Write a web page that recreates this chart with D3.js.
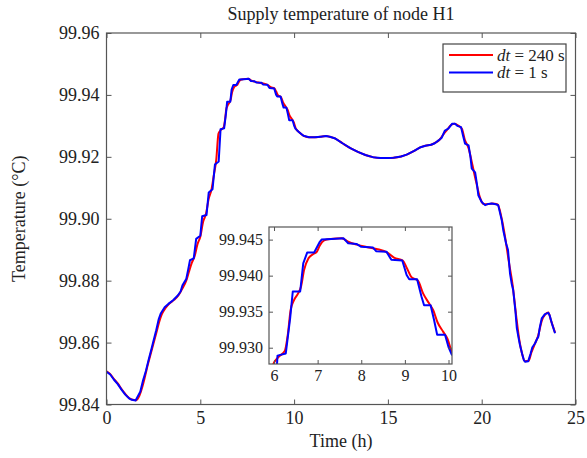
<!DOCTYPE html>
<html>
<head>
<meta charset="utf-8">
<script src="https://cdn.jsdelivr.net/npm/d3@7"></script>
<style>
  body { margin: 0; background: #fff; }
  svg { display: block; font-family: "Liberation Serif", "Times New Roman", serif; }
  .axis path { display: none; }
  .axis line { stroke: #555; stroke-width: 1; }
  .axis text { fill: #222; font-family: "Liberation Serif", "Times New Roman", serif; }
</style>
</head>
<body>
<svg id="chart"></svg>
<script>
// time (h) and temperature for dt = 1 s (blue, stepped)
var blueT = [0.00,0.20,0.40,0.60,0.80,1.00,1.20,1.35,1.55,1.70,1.80,1.95,2.10,2.25,2.40,2.50,2.65,2.78,2.90,3.10,3.30,3.55,3.80,3.95,4.05,4.25,4.35,4.45,4.65,4.78,5.00,5.10,5.33,5.45,5.65,5.78,5.98,6.08,6.27,6.37,6.43,6.60,6.67,6.76,6.92,7.05,7.09,7.32,7.59,7.70,7.89,8.00,8.27,8.34,8.58,8.66,8.69,8.94,9.04,9.10,9.28,9.38,9.44,9.59,9.67,9.74,9.92,10.00,10.07,10.25,10.50,10.80,11.10,11.40,11.70,11.90,12.20,12.60,13.00,13.40,13.80,14.20,14.60,15.00,15.30,15.70,16.00,16.40,16.70,17.00,17.30,17.50,17.70,17.87,18.04,18.22,18.43,18.58,18.70,18.90,19.00,19.11,19.30,19.40,19.47,19.65,19.75,19.82,20.00,20.18,20.35,20.53,20.75,20.88,21.07,21.15,21.30,21.40,21.51,21.60,21.68,21.80,21.87,21.95,22.04,22.15,22.25,22.31,22.48,22.60,22.70,22.84,22.95,23.02,23.10,23.20,23.37,23.55,23.62,23.75,23.91];
var blueV = [99.8506,99.8497,99.8480,99.8466,99.8448,99.8432,99.8420,99.8415,99.8413,99.8430,99.8441,99.8478,99.8508,99.8545,99.8580,99.8604,99.8640,99.8675,99.8695,99.8714,99.8725,99.8737,99.8752,99.8765,99.8785,99.8805,99.8835,99.8866,99.8872,99.8935,99.8945,99.9008,99.9012,99.9085,99.9095,99.9175,99.9185,99.9289,99.9292,99.9341,99.9378,99.9378,99.9417,99.9432,99.9432,99.9447,99.9450,99.9451,99.9452,99.9445,99.9444,99.9440,99.9439,99.9434,99.9433,99.9425,99.9422,99.9421,99.9401,99.9395,99.9395,99.9371,99.9359,99.9359,99.9338,99.9318,99.9318,99.9301,99.9291,99.9280,99.9268,99.9263,99.9263,99.9265,99.9267,99.9265,99.9259,99.9243,99.9228,99.9216,99.9206,99.9199,99.9196,99.9196,99.9197,99.9201,99.9207,99.9219,99.9230,99.9236,99.9239,99.9244,99.9253,99.9262,99.9285,99.9291,99.9307,99.9307,99.9300,99.9296,99.9270,99.9243,99.9237,99.9200,99.9162,99.9150,99.9110,99.9076,99.9054,99.9044,99.9048,99.9049,99.9047,99.9044,99.8995,99.8963,99.8920,99.8900,99.8823,99.8790,99.8769,99.8700,99.8648,99.8620,99.8592,99.8565,99.8543,99.8538,99.8540,99.8563,99.8585,99.8597,99.8612,99.8619,99.8650,99.8678,99.8692,99.8696,99.8688,99.8660,99.8630];

// time (h) and temperature for dt = 240 s (red, smooth)
var redT = [0.00,0.20,0.40,0.60,0.80,1.00,1.20,1.40,1.58,1.75,1.90,2.05,2.20,2.35,2.50,2.65,2.80,2.95,3.15,3.35,3.60,3.85,4.05,4.25,4.40,4.55,4.70,4.85,5.00,5.15,5.30,5.45,5.60,5.72,5.85,5.97,6.10,6.25,6.32,6.38,6.45,6.55,6.62,6.69,6.79,6.90,6.98,7.05,7.15,7.30,7.55,7.70,7.90,8.10,8.35,8.60,8.75,8.95,9.05,9.15,9.30,9.42,9.55,9.65,9.75,9.88,9.98,10.08,10.30,10.55,10.80,11.10,11.40,11.70,11.90,12.20,12.60,13.00,13.40,13.80,14.20,14.60,15.00,15.30,15.70,16.00,16.40,16.70,17.00,17.30,17.50,17.75,17.95,18.15,18.35,18.55,18.75,18.95,19.10,19.30,19.50,19.70,19.90,20.10,20.30,20.55,20.85,21.05,21.25,21.45,21.65,21.85,22.00,22.15,22.30,22.50,22.65,22.85,23.00,23.20,23.40,23.55,23.70,23.91];
var redV = [99.8507,99.8498,99.8482,99.8468,99.8450,99.8434,99.8421,99.8415,99.8414,99.8428,99.8455,99.8490,99.8528,99.8562,99.8596,99.8630,99.8665,99.8692,99.8712,99.8726,99.8738,99.8754,99.8775,99.8800,99.8830,99.8858,99.8880,99.8918,99.8942,99.8990,99.9015,99.9065,99.9095,99.9140,99.9190,99.9275,99.9287,99.9296,99.9320,99.9352,99.9365,99.9375,99.9385,99.9408,99.9424,99.9430,99.9433,99.9442,99.9449,99.9451,99.9452,99.9447,99.9443,99.9440,99.9437,99.9432,99.9425,99.9421,99.9410,99.9398,99.9393,99.9375,99.9362,99.9352,99.9335,99.9322,99.9312,99.9293,99.9278,99.9267,99.9263,99.9263,99.9265,99.9267,99.9265,99.9259,99.9243,99.9228,99.9216,99.9206,99.9199,99.9196,99.9196,99.9197,99.9201,99.9207,99.9219,99.9230,99.9236,99.9239,99.9245,99.9255,99.9272,99.9287,99.9302,99.9307,99.9301,99.9290,99.9255,99.9228,99.9175,99.9120,99.9070,99.9048,99.9047,99.9049,99.9046,99.9005,99.8940,99.8860,99.8785,99.8680,99.8610,99.8565,99.8540,99.8541,99.8568,99.8598,99.8620,99.8670,99.8692,99.8697,99.8670,99.8632];

var xTicks = [0,5,10,15,20,25];
var yTicks = [99.84,99.86,99.88,99.90,99.92,99.94,99.96];
var insetXTicks = [6,7,8,9,10];
var insetYTicks = [99.930,99.935,99.940,99.945];
var seriesNames = ["240 s","1 s"];
var seriesColors = ["#ff0000","#0000ff"];

var W = 587, H = 458;
var svg = d3.select("#chart").attr("width", W).attr("height", H);

var box = {left:106.5, right:575.5, top:33, bottom:404.5};
var x = d3.scaleLinear().domain([0,25]).range([box.left, box.right]);
var y = d3.scaleLinear().domain([99.84,99.96]).range([box.bottom, box.top]);

var red = redT.map(function(t,i){ return [t, redV[i]]; });
var blue = blueT.map(function(t,i){ return [t, blueV[i]]; });

function drawFrame(g, xs, ys, xt, yt, xfmt, yfmt, tick, fs, pad){
  var r = xs.range(), d = ys.range();
  g.append("g").attr("class","axis").attr("transform","translate(0,"+d[0]+")")
    .call(d3.axisBottom(xs).tickValues(xt).tickSizeInner(-tick).tickSizeOuter(0).tickPadding(pad).tickFormat(xfmt))
    .attr("font-family", null).attr("font-size", fs);
  g.append("g").attr("class","axis").attr("transform","translate(0,"+d[1]+")")
    .call(d3.axisTop(xs).tickValues(xt).tickSizeInner(-tick).tickSizeOuter(0).tickFormat(""));
  g.append("g").attr("class","axis").attr("transform","translate("+r[0]+",0)")
    .call(d3.axisLeft(ys).tickValues(yt).tickSizeInner(-tick).tickSizeOuter(0).tickPadding(pad).tickFormat(yfmt))
    .attr("font-family", null).attr("font-size", fs);
  g.append("g").attr("class","axis").attr("transform","translate("+r[1]+",0)")
    .call(d3.axisRight(ys).tickValues(yt).tickSizeInner(-tick).tickSizeOuter(0).tickFormat(""));
  g.append("rect").attr("x",r[0]).attr("y",d[1]).attr("width",r[1]-r[0]).attr("height",d[0]-d[1])
    .attr("fill","none").attr("stroke","#555").attr("stroke-width",1.2);
}

function drawLines(g, xs, ys, clipId){
  var lineR = d3.line().x(function(d){return xs(d[0]);}).y(function(d){return ys(d[1]);}).curve(d3.curveMonotoneX);
  var lineB = d3.line().x(function(d){return xs(d[0]);}).y(function(d){return ys(d[1]);});
  var lg = g.append("g");
  if (clipId) lg.attr("clip-path","url(#"+clipId+")");
  lg.append("path").datum(red).attr("d", lineR).attr("fill","none").attr("stroke",seriesColors[0]).attr("stroke-width",2).attr("stroke-linejoin","round");
  lg.append("path").datum(blue).attr("d", lineB).attr("fill","none").attr("stroke",seriesColors[1]).attr("stroke-width",2).attr("stroke-linejoin","round");
}

// main plot
var main = svg.append("g");
drawLines(main, x, y, null);
drawFrame(main, x, y, xTicks, yTicks, d3.format("d"), d3.format(".2f"), 5, 18, 7);

// title and axis labels
svg.append("text").attr("x",(box.left+box.right)/2).attr("y",20).attr("text-anchor","middle")
  .style("font-size","18px").attr("fill","#222").text("Supply temperature of node H1");
svg.append("text").attr("x",(box.left+box.right)/2).attr("y",447).attr("text-anchor","middle")
  .style("font-size","18px").attr("fill","#222").text("Time (h)");
svg.append("text").attr("transform","translate(25,"+((box.top+box.bottom)/2)+") rotate(-90)")
  .attr("text-anchor","middle").style("font-size","18px").attr("fill","#222").text("Temperature (\u00B0C)");

// legend
var leg = svg.append("g");
leg.append("rect").attr("x",443).attr("y",44).attr("width",123).attr("height",48)
  .attr("fill","#fff").attr("stroke","#444").attr("stroke-width",1.2);
seriesNames.forEach(function(n,i){
  var ly = 55 + i*17.5;
  leg.append("line").attr("x1",449).attr("x2",493).attr("y1",ly).attr("y2",ly)
    .attr("stroke",seriesColors[i]).attr("stroke-width",2);
  var t = leg.append("text").attr("x",497).attr("y",ly+5.5).style("font-size","17px").attr("fill","#222");
  t.append("tspan").style("font-style","italic").text("dt");
  t.append("tspan").text(" = " + n);
});

// inset
var ix = d3.scaleLinear().domain([5.885,10.08]).range([269,452]);
var iy = d3.scaleLinear().domain([99.92774,99.94675]).range([364,227]);
svg.append("defs").append("clipPath").attr("id","insetClip")
  .append("rect").attr("x",269).attr("y",227).attr("width",183).attr("height",137);
var inset = svg.append("g");
inset.append("rect").attr("x",269).attr("y",227).attr("width",183).attr("height",137).attr("fill","#fff");
drawLines(inset, ix, iy, "insetClip");
drawFrame(inset, ix, iy, insetXTicks, insetYTicks, d3.format("d"), d3.format(".3f"), 4, 16, 6);
</script>
</body>
</html>
